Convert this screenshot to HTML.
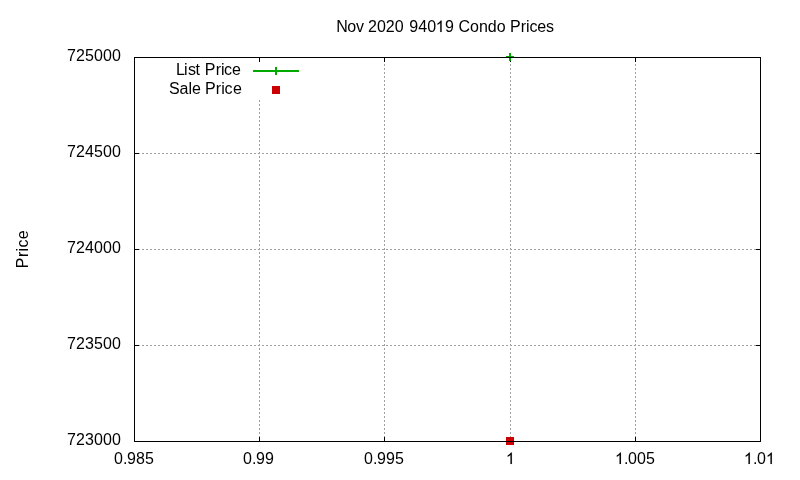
<!DOCTYPE html>
<html>
<head>
<meta charset="utf-8">
<title>Nov 2020 94019 Condo Prices</title>
<style>
html, body { margin: 0; padding: 0; background: #ffffff; }
body { width: 800px; height: 480px; overflow: hidden; }
svg { display: block; will-change: transform; }
text { font-family: "Liberation Sans", sans-serif; font-size: 16px; fill: #000000; }
.h { fill: none; }
</style>
</head>
<body>
<svg width="800" height="480" viewBox="0 0 800 480">
<defs>
<pattern id="hd" x="134" y="0" width="4" height="1" patternUnits="userSpaceOnUse"><rect x="0" y="0" width="2" height="1" fill="#a0a0a0"/></pattern>
<pattern id="vd" x="0" y="440" width="1" height="4" patternUnits="userSpaceOnUse"><rect x="0" y="0" width="1" height="2" fill="#a0a0a0"/></pattern>
<path id="g1" transform="scale(0.0078125,-0.0078125)" d="M763 0H583V1147Q518 1085 412.5 1023T223 930V1104Q374 1175 487 1276T647 1472H763Z"/>
</defs>
<g shape-rendering="crispEdges">
<rect x="134" y="153" width="627" height="1" fill="url(#hd)"/>
<rect x="134" y="249" width="627" height="1" fill="url(#hd)"/>
<rect x="134" y="345" width="627" height="1" fill="url(#hd)"/>
<rect x="259" y="100" width="1" height="342" fill="url(#vd)"/>
<rect x="384" y="57" width="1" height="385" fill="url(#vd)"/>
<rect x="510" y="57" width="1" height="385" fill="url(#vd)"/>
<rect x="635" y="57" width="1" height="385" fill="url(#vd)"/>
<rect x="259" y="437" width="1" height="5" fill="#000"/>
<rect x="259" y="57" width="1" height="5" fill="#000"/>
<rect x="384" y="437" width="1" height="5" fill="#000"/>
<rect x="384" y="57" width="1" height="5" fill="#000"/>
<rect x="510" y="437" width="1" height="5" fill="#000"/>
<rect x="510" y="57" width="1" height="5" fill="#000"/>
<rect x="635" y="437" width="1" height="5" fill="#000"/>
<rect x="635" y="57" width="1" height="5" fill="#000"/>
<rect x="134" y="153" width="5" height="1" fill="#000"/>
<rect x="756" y="153" width="5" height="1" fill="#000"/>
<rect x="134" y="249" width="5" height="1" fill="#000"/>
<rect x="756" y="249" width="5" height="1" fill="#000"/>
<rect x="134" y="345" width="5" height="1" fill="#000"/>
<rect x="756" y="345" width="5" height="1" fill="#000"/>
<rect x="253" y="70" width="46" height="2" fill="#00aa00"/>
<rect x="275" y="67" width="2" height="8" fill="#00aa00"/>
<rect x="272" y="86" width="8" height="8" fill="#cc0000"/>
<rect x="509" y="53" width="2" height="8" fill="#00aa00"/>
<rect x="506" y="56" width="8" height="2" fill="#00aa00"/>
<rect x="506" y="437" width="8" height="8" fill="#cc0000"/>
<rect x="134" y="57" width="627" height="1" fill="#000"/>
<rect x="134" y="441" width="627" height="1" fill="#000"/>
<rect x="134" y="57" width="1" height="385" fill="#000"/>
<rect x="760" y="57" width="1" height="385" fill="#000"/>
</g>
<g>
<text x="445.1" y="32" text-anchor="middle" class="title">N<tspan dx="-0.5">ov</tspan><tspan dx="-0.5"> 2020</tspan><tspan dx="1.1"> 9</tspan><tspan style="letter-spacing:0.2px">40<tspan class="h">1</tspan><tspan dx="-0.35">9</tspan></tspan><tspan dx="-0.2"> C</tspan><tspan style="letter-spacing:0.04px">ondo</tspan><tspan dx="-0.2"> P</tspan><tspan style="letter-spacing:-0.09px">rices</tspan></text>
<text x="67 76 85 94 103 112" y="61">725000</text>
<text x="67 76 85 94 103 112" y="157">724500</text>
<text x="67 76 85 94 103 112" y="253">724000</text>
<text x="67 76 85 94 103 112" y="349">723500</text>
<text x="67 76 85 94 103 112" y="445">723000</text>
<text x="114 123 127 136 145" y="464">0.985</text>
<text x="243 252 256 265" y="464">0.99</text>
<text x="364 373 377 386 395" y="464">0.995</text>
<text x="505.9" y="464"><tspan class="h">1</tspan></text>
<text x="615 624 628 637 646" y="464"><tspan class="h">1</tspan>.005</text>
<text x="743.9 752.9 756.9 765.9" y="464"><tspan class="h">1</tspan>.0<tspan class="h">1</tspan></text>
<text x="240.85" y="75" text-anchor="end" style="letter-spacing:-0.04px">L<tspan dx="-0.75">i</tspan><tspan dx="0.35">s</tspan><tspan dx="-0.3">t</tspan><tspan dx="0.45"> P</tspan><tspan dx="0.25">ri</tspan><tspan dx="-0.4">c</tspan><tspan dx="-0.1">e</tspan></text>
<text x="241.9" y="94" text-anchor="end">Sale<tspan dx="-0.4"> P</tspan><tspan dx="0.15">ri</tspan><tspan dx="-0.25">c</tspan><tspan dx="0.5">e</tspan></text>
<text transform="translate(28,249.05) rotate(-90)" text-anchor="middle" style="letter-spacing:0.35px">Price</text>
</g>
<g>
<use href="#g1" x="435.68" y="32.00" stroke="#000" stroke-width="12.8"/>
<use href="#g1" x="505.90" y="464.00" stroke="#000" stroke-width="12.8"/>
<use href="#g1" x="615.00" y="464.00" stroke="#000" stroke-width="12.8"/>
<use href="#g1" x="743.90" y="464.00" stroke="#000" stroke-width="12.8"/>
<use href="#g1" x="765.90" y="464.00" stroke="#000" stroke-width="12.8"/>
</g>
</svg>
</body>
</html>
